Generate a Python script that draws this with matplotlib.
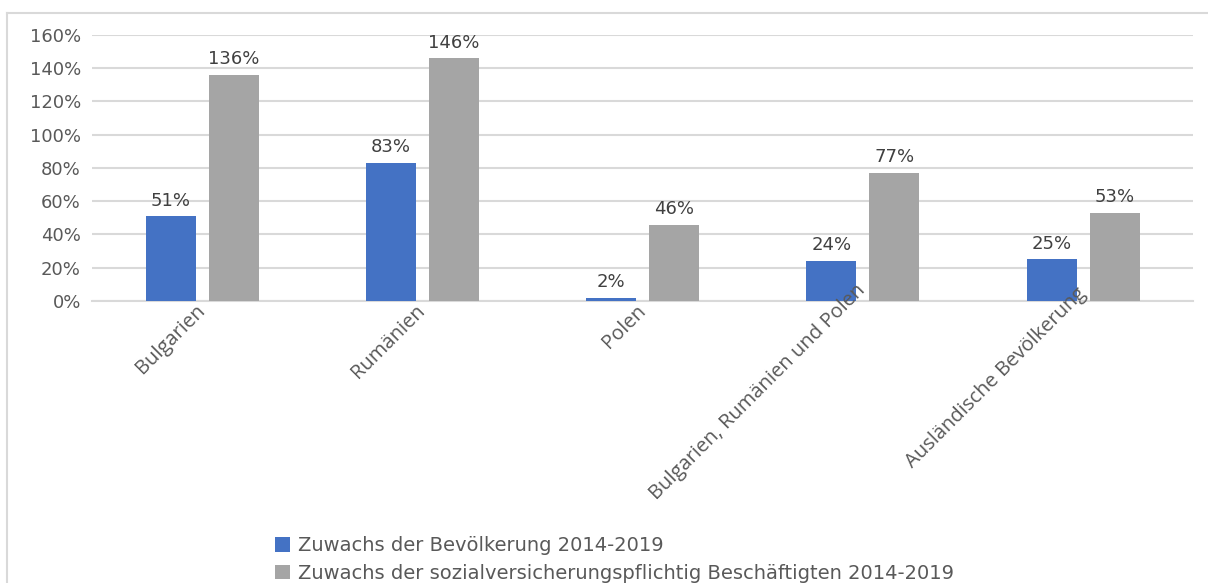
import matplotlib
matplotlib.use("Agg")
import matplotlib.pyplot as plt
import numpy as np
from matplotlib.lines import Line2D
from matplotlib.transforms import ScaledTranslation
from matplotlib.ticker import FuncFormatter, MultipleLocator

categories = [
    "Bulgarien",
    "Rumänien",
    "Polen",
    "Bulgarien, Rumänien und Polen",
    "Ausländische Bevölkerung",
]
bevoelkerung = [51, 83, 2, 24, 25]
beschaeftigte = [136, 146, 46, 77, 53]
series_names = [
    "Zuwachs der Bevölkerung 2014-2019",
    "Zuwachs der sozialversicherungspflichtig Beschäftigten 2014-2019",
]

BLUE = "#4472C4"
GRAY = "#A5A5A5"
TEXT = "#595959"
GRID = "#D9D9D9"
# long category labels sit a little higher, overlapping the baseline
label_lift_px = [0, 0, 0, 20, 17]

plt.rcParams["font.family"] = ["DejaVu Sans"]

fig = plt.figure(figsize=(12.08, 5.83), dpi=100)
ax = fig.add_axes([0.0762, 0.4837, 0.9115, 0.4563])

x = np.arange(len(categories))
w = 0.227
off = 0.143
b1 = ax.bar(x - off, bevoelkerung, w, color=BLUE, label=series_names[0], zorder=3)
b2 = ax.bar(x + off, beschaeftigte, w, color=GRAY, label=series_names[1], zorder=3)

for bars, vals in ((b1, bevoelkerung), (b2, beschaeftigte)):
    for rect, v in zip(bars, vals):
        ax.text(rect.get_x() + rect.get_width() / 2, v + 4, f"{v}%",
                ha="center", va="bottom", fontsize=13, color="#404040")

ax.set_xlim(-0.5, len(categories) - 0.5)
ax.set_ylim(0, 160)
ax.yaxis.set_major_locator(MultipleLocator(20))
ax.yaxis.set_major_formatter(FuncFormatter(lambda v, _: f"{v:.0f}%"))
ax.grid(axis="y", color=GRID, linewidth=1.5, zorder=0)
ax.set_axisbelow(True)
for side in ("top", "right", "left"):
    ax.spines[side].set_visible(False)
ax.spines["bottom"].set_color(GRID)
ax.spines["bottom"].set_linewidth(1.5)

ax.tick_params(axis="y", length=0, pad=8, labelsize=13, labelcolor=TEXT)
ax.tick_params(axis="x", length=0, pad=5, labelcolor=TEXT)
ax.set_xticks(x)
ax.set_xticklabels(categories, rotation=45, ha="right", va="center",
                   rotation_mode="anchor", fontfamily="Open Sans", fontsize=14.5)
for lbl, lift in zip(ax.get_xticklabels(), label_lift_px):
    lbl.set_transform(lbl.get_transform()
                      + ScaledTranslation(0, lift / 100, fig.dpi_scale_trans))
# category labels are drawn over the bars
ax.xaxis.set_zorder(4)

fig.legend(handles=[b1, b2], loc="center left", bbox_to_anchor=(0.2135, 0.04),
           frameon=False, labelcolor=TEXT, handlelength=0.75,
           handleheight=0.75, handletextpad=0.4, labelspacing=0.45,
           prop={"family": "DejaVu Sans", "size": 14})

# chart frame: only the top and left edges are visible
fig.add_artist(Line2D([0.0058, 1.0], [0.978, 0.978], transform=fig.transFigure,
                      color=GRID, linewidth=1.5))
fig.add_artist(Line2D([0.0058, 0.0058], [0.0, 0.978], transform=fig.transFigure,
                      color=GRID, linewidth=1.5))

fig.savefig("out.png", dpi=100)
